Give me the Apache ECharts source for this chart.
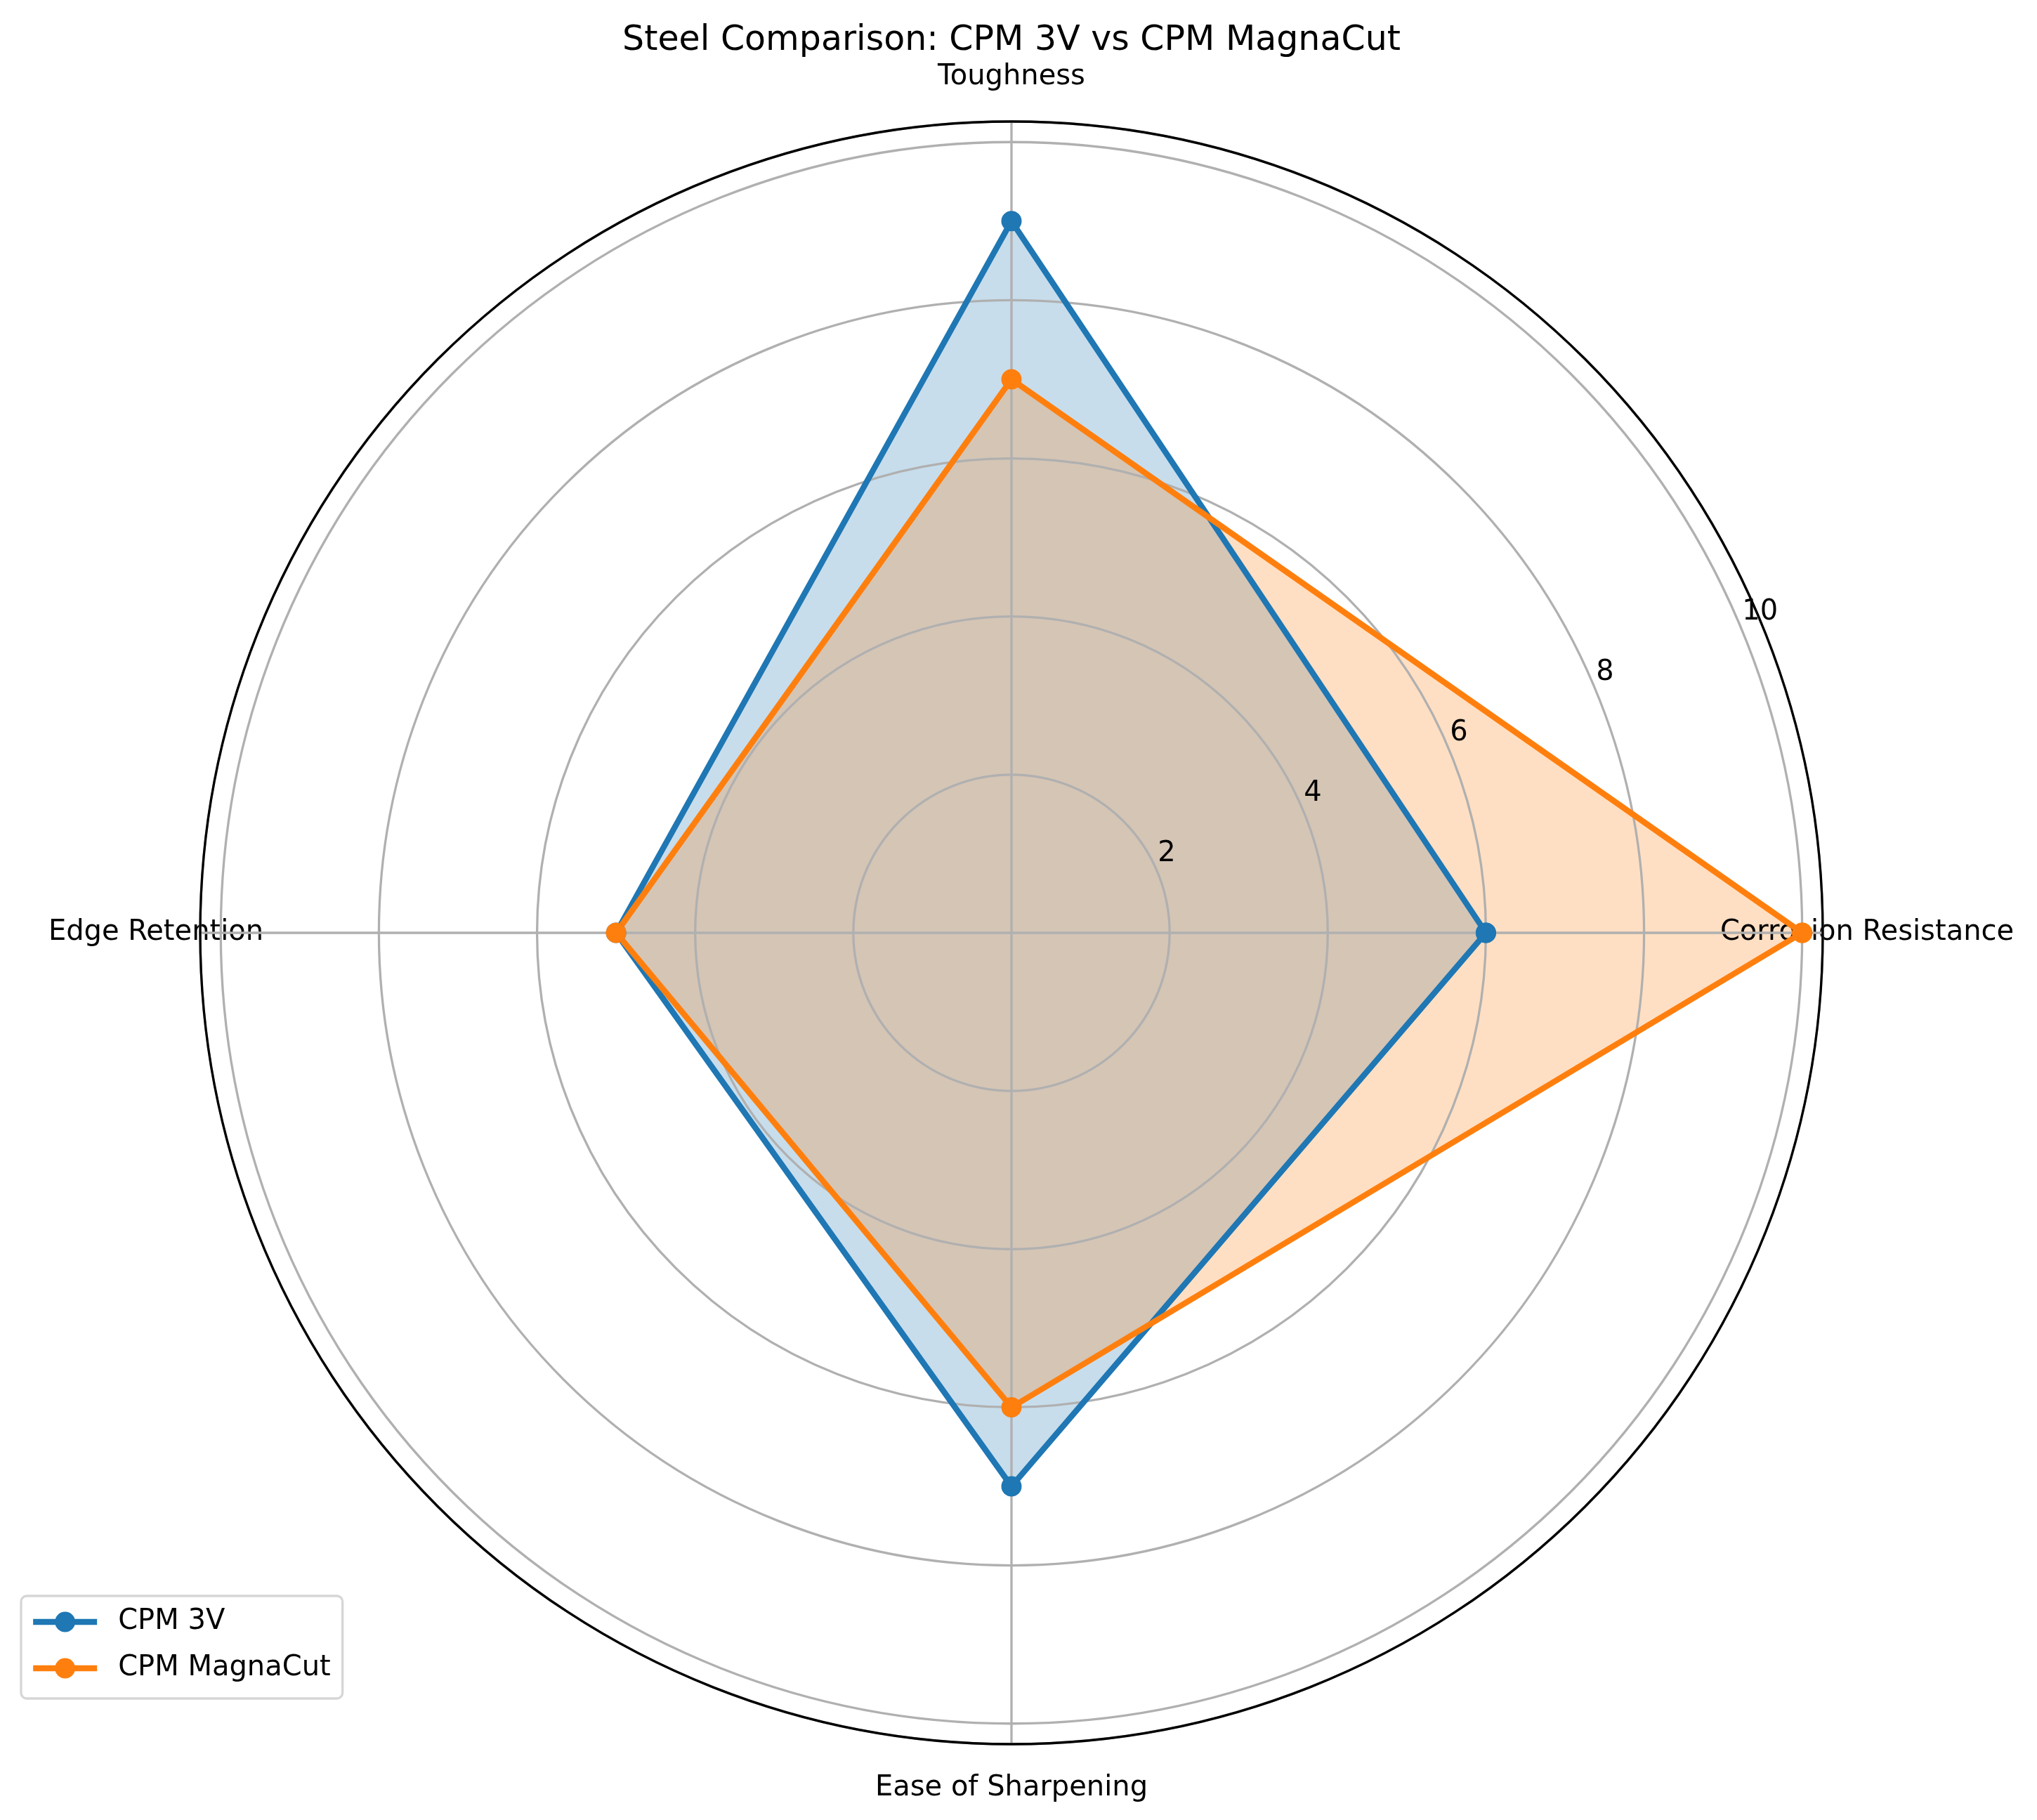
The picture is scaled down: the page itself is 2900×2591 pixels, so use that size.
<!DOCTYPE html>
<html>
<head>
<meta charset="utf-8">
<script src="https://cdn.jsdelivr.net/npm/echarts@6/dist/echarts.min.js"></script>
<style>
  html, body { margin: 0; padding: 0; background: #fff; }
  #main { width: 2900px; height: 2591px; }
</style>
</head>
<body>
<div id="main"></div>
<script>
// data
const categories = ['Corrosion Resistance', 'Toughness', 'Edge Retention', 'Ease of Sharpening'];
const cpm3v = [6, 9, 5, 7];
const magnacut = [10, 7, 5, 6];
const radialTicks = [2, 4, 6, 8, 10];
const seriesNames = ['CPM 3V', 'CPM MagnaCut'];

const BLUE = '#1f77b4';
const ORANGE = '#ff7f0e';
const GRID = '#b0b0b0';
const FONT = 'DejaVu Sans';
const R_MAX = 10.26;          // matplotlib autoscaled rlim
const CENTER = [1440, 1328];
const RADIUS = 1155;
const LABEL_RADIUS = 1218;    // category names sit centred just outside the frame

// each category sits on its own spoke, counter-clockwise from 3 o'clock
const angles = categories.map(function (c, i) { return i * 360 / categories.length; });

function toPolar(values) {
    const pts = values.map(function (v, i) { return [v, angles[i]]; });
    pts.push([values[0], 360]); // close the polygon
    return pts;
}

function lineSeries(name, values, color) {
    return {
        name: name,
        type: 'line',
        coordinateSystem: 'polar',
        polarIndex: 0,
        data: toPolar(values),
        symbol: 'circle',
        symbolSize: 29,
        lineStyle: { color: color, width: 8.3 },
        itemStyle: { color: color },
        z: 3,
        silent: true,
        animation: false
    };
}

function areaSeries(name, values, color) {
    return {
        name: name,
        type: 'line',
        coordinateSystem: 'polar',
        polarIndex: 0,
        data: toPolar(values),
        symbol: 'none',
        lineStyle: { width: 0 },
        areaStyle: { color: color, opacity: 0.25 },
        z: 1,
        silent: true,
        animation: false
    };
}

var myChart = echarts.init(document.getElementById('main'));

const option = {
    backgroundColor: '#ffffff',
    animation: false,
    title: {
        text: 'Steel Comparison: CPM 3V vs CPM MagnaCut',
        left: 1440,
        textAlign: 'center',
        top: 34,
        padding: 0,
        textStyle: { fontFamily: FONT, fontSize: 49, fontWeight: 'normal', color: '#000' }
    },
    legend: {
        data: seriesNames,
        orient: 'vertical',
        left: 30,
        top: 2272,
        itemWidth: 91,
        itemHeight: 36,
        itemGap: 26,
        padding: [17, 17, 23, 13],
        backgroundColor: '#fff',
        borderColor: '#d6d6d6',
        borderWidth: 3.3,
        borderRadius: 8,
        lineStyle: { width: 8.3 },
        textStyle: { fontFamily: FONT, fontSize: 40, color: '#000', padding: [0, 0, 0, 25] }
    },
    polar: [
        { center: CENTER, radius: RADIUS },
        { center: CENTER, radius: RADIUS },
        { center: CENTER, radius: LABEL_RADIUS }
    ],
    angleAxis: [
        {
            polarIndex: 0,
            type: 'value',
            min: 0,
            max: 360,
            interval: 90,
            startAngle: 0,
            clockwise: false,
            z: 2,
            axisLine: { show: true, lineStyle: { color: '#000', width: 3.3 } },
            axisTick: { show: false },
            axisLabel: { show: false },
            splitLine: { show: true, lineStyle: { color: GRID, width: 3.3 } }
        },
        {
            // only here to turn the r-tick labels to 22.5 degrees
            polarIndex: 1,
            type: 'value',
            min: 0,
            max: 360,
            startAngle: 22.5,
            show: false
        },
        {
            polarIndex: 2,
            type: 'value',
            min: 0,
            max: 360,
            startAngle: 0,
            clockwise: false,
            show: false
        }
    ],
    radiusAxis: [
        {
            polarIndex: 0,
            min: 0,
            max: R_MAX,
            interval: 2,
            z: 1.5,
            axisLine: { show: false },
            axisTick: { show: false },
            axisLabel: { show: false },
            splitLine: { show: true, lineStyle: { color: GRID, width: 3.3 } }
        },
        {
            polarIndex: 1,
            min: 0,
            max: R_MAX,
            interval: 2,
            z: 2,
            axisLine: { show: false },
            axisTick: { show: false },
            splitLine: { show: false },
            axisLabel: {
                show: true,
                margin: 28,
                align: 'left',
                verticalAlign: 'middle',
                padding: [0, 0, 0, 11],
                fontFamily: FONT,
                fontSize: 40,
                color: '#000',
                formatter: function (v) {
                    return radialTicks.indexOf(v) >= 0 ? String(v) : '';
                }
            }
        },
        {
            polarIndex: 2,
            min: 0,
            max: 1,
            show: false
        }
    ],
    series: [
        lineSeries(seriesNames[0], cpm3v, BLUE),
        lineSeries(seriesNames[1], magnacut, ORANGE),
        areaSeries(seriesNames[0], cpm3v, BLUE),
        areaSeries(seriesNames[1], magnacut, ORANGE),
        {
            // category names
            type: 'scatter',
            coordinateSystem: 'polar',
            polarIndex: 2,
            symbolSize: 1,
            itemStyle: { color: '#fff', opacity: 1 },
            silent: true,
            z: 1,
            data: categories.map(function (c, i) {
                return { name: c, value: [1, angles[i]] };
            }),
            label: {
                show: true,
                position: 'inside',
                formatter: '{b}',
                fontFamily: FONT,
                fontSize: 40,
                color: '#000',
                opacity: 1,
                textBorderWidth: 0
            }
        }
    ]
};

myChart.setOption(option);
</script>
</body>
</html>
